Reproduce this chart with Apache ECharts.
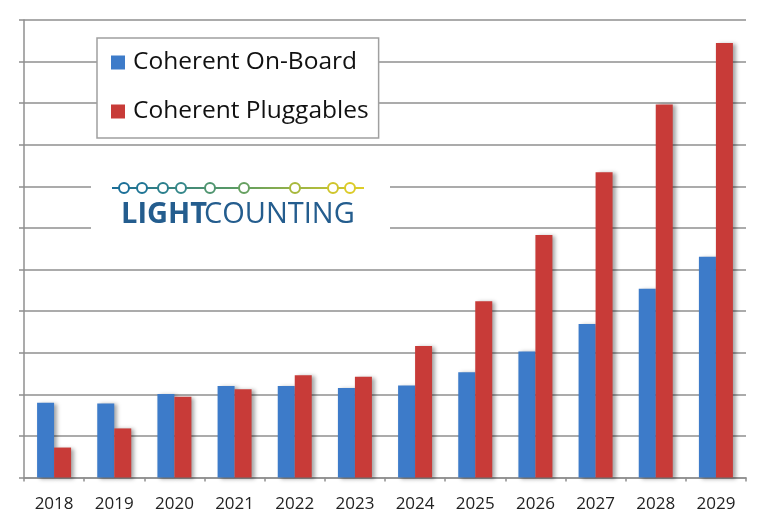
<!DOCTYPE html>
<html>
<head>
<meta charset="utf-8">
<script src="https://cdn.jsdelivr.net/npm/echarts@6/dist/echarts.min.js"></script>
<style>
  html, body { margin: 0; padding: 0; background: #fff; }
  #chart { width: 767px; height: 528px; }
</style>
</head>
<body>
<div id="chart"></div>
<script>
// years and the two series, in gridline units (no y labels in the original)
const years = ['2018', '2019', '2020', '2021', '2022', '2023', '2024', '2025', '2026', '2027', '2028', '2029'];
const onBoard = [1.80, 1.78, 2.01, 2.20, 2.20, 2.15, 2.21, 2.53, 3.03, 3.69, 4.54, 5.31];
const pluggables = [0.72, 1.18, 1.94, 2.12, 2.46, 2.42, 3.16, 4.24, 5.83, 7.34, 8.97, 10.45];

const gridColor = '#8f8f8f';
const fontFamily = '"Open Sans", "Noto Sans", sans-serif';

let myChart = echarts.init(document.getElementById('chart'));

// logo dots, x positions along the line
const dotX = [124, 142, 163, 181, 210, 244, 295, 333, 350];
const dotColors = ['#1b6f98', '#1f7595', '#2a7f8c', '#34878a', '#4f9570', '#66a060', '#a7b83c', '#cfc52c', '#dccb28'];

let logo = [
    // white patch that breaks the gridlines behind the logo
    { type: 'rect', shape: { x: 91, y: 168, width: 299, height: 72 }, style: { fill: '#fff' }, z: 10 },
    {
        type: 'line', shape: { x1: 112, y1: 188, x2: 364, y2: 188 }, z: 11,
        style: {
            lineWidth: 2,
            stroke: {
                type: 'linear', x: 0, y: 0, x2: 1, y2: 0,
                colorStops: [{ offset: 0, color: '#1a6c98' }, { offset: 0.5, color: '#5c9c63' }, { offset: 1, color: '#e2cf25' }]
            }
        }
    },
    { type: 'text', x: 121, y: 200, z: 12, style: { text: 'LIGHT', fill: '#245d8e', font: 'bold 29px ' + fontFamily } },
    { type: 'text', x: 204, y: 200, z: 12, style: { text: 'COUNTING', fill: '#245d8e', font: '29px ' + fontFamily } }
];
dotX.forEach((x, i) => {
    logo.push({
        type: 'circle', shape: { cx: x, cy: 188, r: 5 }, z: 12,
        style: { fill: '#fff', stroke: dotColors[i], lineWidth: 2 }
    });
});

myChart.setOption({
    animation: false,
    backgroundColor: '#fff',
    grid: { left: 24, right: 21, top: 20, bottom: 50.5 },
    legend: {
        orient: 'vertical',
        left: 97,
        top: 38,
        backgroundColor: '#fff',
        borderColor: '#a0a0a0',
        borderWidth: 1.5,
        padding: [12, 10, 14, 14],
        itemWidth: 14,
        itemHeight: 14,
        itemGap: 24,
        icon: 'rect',
        textStyle: { fontSize: 24.5, color: '#111', fontFamily: fontFamily, padding: [0, 0, 0, 3] },
        data: ['Coherent On-Board', 'Coherent Pluggables']
    },
    xAxis: {
        type: 'category',
        data: years,
        axisLine: { lineStyle: { color: gridColor, width: 1.5 } },
        axisTick: { show: true, length: 4, lineStyle: { color: gridColor, width: 1.5 } },
        axisLabel: { fontSize: 17, color: '#222', fontFamily: fontFamily, margin: 18 }
    },
    yAxis: {
        type: 'value',
        min: 0,
        max: 11,
        interval: 1,
        axisLine: { show: true, lineStyle: { color: gridColor, width: 1.5 } },
        axisTick: { show: true, length: 5, lineStyle: { color: gridColor, width: 1.5 } },
        axisLabel: { show: false },
        splitLine: { lineStyle: { color: gridColor, width: 1.5 } }
    },
    graphic: logo,
    series: [
        {
            name: 'Coherent On-Board',
            type: 'bar',
            data: onBoard,
            barWidth: 17,
            barGap: '0%',
            itemStyle: {
                color: '#3d7bc9',
                shadowColor: 'rgba(0,0,0,0.35)',
                shadowBlur: 4,
                shadowOffsetX: 3,
                shadowOffsetY: 1
            }
        },
        {
            name: 'Coherent Pluggables',
            type: 'bar',
            data: pluggables,
            barWidth: 17,
            barGap: '0%',
            itemStyle: {
                color: '#c83b38',
                shadowColor: 'rgba(0,0,0,0.35)',
                shadowBlur: 4,
                shadowOffsetX: 3,
                shadowOffsetY: 1
            }
        }
    ]
});
</script>
</body>
</html>
